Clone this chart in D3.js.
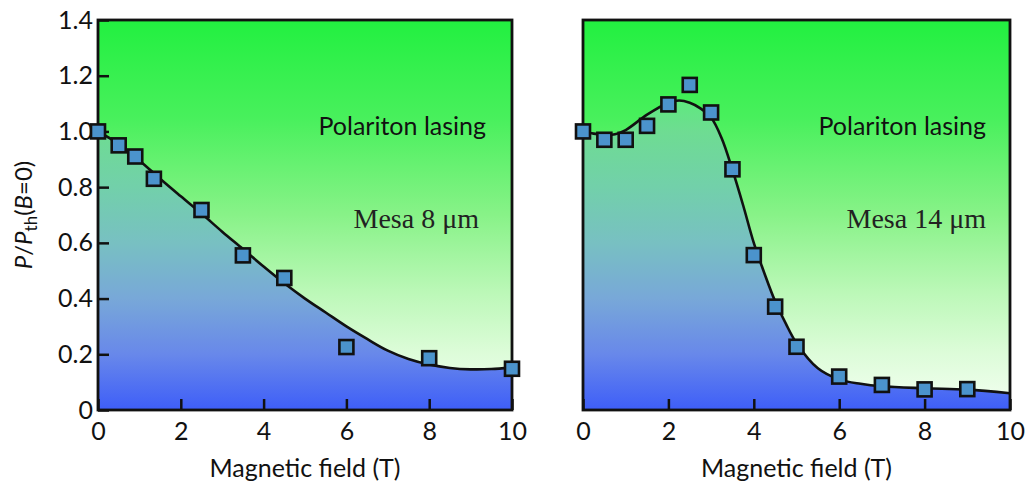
<!DOCTYPE html>
<html>
<head>
<meta charset="utf-8">
<script src="https://cdn.jsdelivr.net/npm/d3@7"></script>
<style>
  html, body { margin: 0; padding: 0; background: #ffffff; }
  svg { display: block; }
  .tick text { font-family: Lato, "Open Sans", sans-serif; font-size: 25px; fill: #111; }
</style>
</head>
<body>
<svg id="chart" width="1030" height="491"></svg>
<script>
// ---------------- data ----------------
const xTicks = [0, 2, 4, 6, 8, 10];
const yTicks = [0, 0.2, 0.4, 0.6, 0.8, 1.0, 1.2, 1.4];

// Mesa 8 µm: measured points
const mesa8B = [0, 0.5, 0.9, 1.35, 2.5, 3.5, 4.5, 6, 8, 10];
const mesa8P = [1.00, 0.95, 0.91, 0.83, 0.718, 0.555, 0.474, 0.226, 0.186, 0.148];
// Mesa 8 µm: fitted curve
const mesa8FitB = [0, 0.5, 1, 1.5, 2, 2.5, 3, 3.5, 4, 4.5, 5, 5.5, 6, 6.5, 7, 7.5, 8, 8.5, 9, 9.5, 10];
const mesa8FitP = [1.0, 0.955, 0.896, 0.83, 0.767, 0.705, 0.64, 0.578, 0.515, 0.455, 0.40, 0.35, 0.30, 0.255, 0.213, 0.183, 0.163, 0.151, 0.146, 0.147, 0.153];

// Mesa 14 µm: measured points
const mesa14B = [0, 0.5, 1, 1.5, 2, 2.5, 3, 3.5, 4, 4.5, 5, 6, 7, 8, 9];
const mesa14P = [1.00, 0.97, 0.97, 1.02, 1.097, 1.167, 1.068, 0.864, 0.556, 0.371, 0.227, 0.12, 0.09, 0.074, 0.075];
// Mesa 14 µm: fitted curve
const mesa14FitB = [0, 0.25, 0.5, 0.75, 1, 1.5, 2, 2.25, 2.5, 2.75, 3, 3.25, 3.5, 3.75, 4, 4.25, 4.5, 4.75, 5, 5.5, 6, 6.5, 7, 8, 9, 10];
const mesa14FitP = [1.0, 0.992, 0.988, 0.99, 1.005, 1.06, 1.103, 1.111, 1.103, 1.083, 1.05, 0.975, 0.862, 0.735, 0.60, 0.49, 0.39, 0.31, 0.24, 0.15, 0.11, 0.094, 0.085, 0.078, 0.073, 0.06];

const panelLabels = ["Polariton lasing", "Polariton lasing"];
const mesaLabels = ["Mesa 8 \u03BCm", "Mesa 14 \u03BCm"];
const xTitle = "Magnetic field (T)";

// ---------------- layout ----------------
const svg = d3.select("#chart");
const yTop = 20, yBot = 410;
const panels = [
  { x0: 98, x1: 512, B: mesa8B, P: mesa8P, fB: mesa8FitB, fP: mesa8FitP, yAxis: true },
  { x0: 583, x1: 1010, B: mesa14B, P: mesa14P, fB: mesa14FitB, fP: mesa14FitP, yAxis: false }
];

const y = d3.scaleLinear().domain([0, 1.4]).range([yBot, yTop]);

const defs = svg.append("defs");
const gAbove = defs.append("linearGradient").attr("id", "gAbove")
  .attr("gradientUnits", "userSpaceOnUse").attr("x1", 0).attr("x2", 0)
  .attr("y1", yTop).attr("y2", yBot);
[[0, "#22f040"], [0.25, "#48f05c"], [0.5, "#88f288"], [0.7, "#bcf8b8"], [0.85, "#dcfcd8"], [1, "#f4fff2"]]
  .forEach(s => gAbove.append("stop").attr("offset", s[0]).attr("stop-color", s[1]));
const gBelow = defs.append("linearGradient").attr("id", "gBelow")
  .attr("gradientUnits", "userSpaceOnUse").attr("x1", 0).attr("x2", 0)
  .attr("y1", yTop).attr("y2", yBot);
[[0, "#40f060"], [0.214, "#60e880"], [0.286, "#6edc92"], [0.428, "#72d0aa"], [0.571, "#78c0c2"], [0.714, "#78a8d8"], [0.857, "#6888ea"], [1, "#3e5ef8"]]
  .forEach(s => gBelow.append("stop").attr("offset", s[0]).attr("stop-color", s[1]));

panels.forEach((p, i) => {
  const x = d3.scaleLinear().domain([0, 10]).range([p.x0, p.x1]);
  const fit = p.fB.map((b, k) => [b, p.fP[k]]);
  const pts = p.B.map((b, k) => [b, p.P[k]]);

  const clipId = "clip" + i;
  defs.append("clipPath").attr("id", clipId).append("rect")
    .attr("x", p.x0).attr("y", yTop).attr("width", p.x1 - p.x0).attr("height", yBot - yTop);

  const g = svg.append("g");
  const inner = g.append("g").attr("clip-path", `url(#${clipId})`);
  inner.append("rect").attr("x", p.x0).attr("y", yTop)
    .attr("width", p.x1 - p.x0).attr("height", yBot - yTop).attr("fill", "url(#gAbove)");

  const curve = d3.curveCatmullRom.alpha(0.5);
  inner.append("path").datum(fit)
    .attr("d", d3.area().x(d => x(d[0])).y0(yBot).y1(d => y(d[1])).curve(curve))
    .attr("fill", "url(#gBelow)");
  inner.append("path").datum(fit)
    .attr("d", d3.line().x(d => x(d[0])).y(d => y(d[1])).curve(curve))
    .attr("fill", "none").attr("stroke", "#111").attr("stroke-width", 2.6);

  const xa = g.append("g").attr("transform", `translate(0,${yBot})`)
    .call(d3.axisBottom(x).tickValues(xTicks).tickSizeInner(-11).tickSizeOuter(0).tickPadding(12)
      .tickFormat(d3.format("d")));
  xa.select(".domain").remove();
  xa.selectAll(".tick line").attr("stroke", "#111").attr("stroke-width", 2.5);

  if (p.yAxis) {
    const ya = g.append("g").attr("transform", `translate(${p.x0},0)`)
      .call(d3.axisLeft(y).tickValues(yTicks).tickSizeInner(-11).tickSizeOuter(0).tickPadding(5)
        .tickFormat(d => d === 0 ? "0" : d3.format(".1f")(d)));
    ya.select(".domain").remove();
    ya.selectAll(".tick line").attr("stroke", "#111").attr("stroke-width", 2.5);
  }

  g.append("rect").attr("x", p.x0).attr("y", yTop)
    .attr("width", p.x1 - p.x0).attr("height", yBot - yTop)
    .attr("fill", "none").attr("stroke", "#111").attr("stroke-width", 2.8);

  g.append("text").attr("x", p.x0 + (i === 0 ? 388 : 403)).attr("y", 135)
    .attr("text-anchor", "end")
    .style("font-family", "Lato, 'Open Sans', sans-serif").style("font-size", "25px").attr("fill", "#111")
    .text(panelLabels[i]);
  g.append("text").attr("x", p.x0 + (i === 0 ? 381 : 403)).attr("y", 228)
    .attr("text-anchor", "end")
    .style("font-family", "'Liberation Serif', 'DejaVu Serif', serif").style("font-size", "28px").attr("fill", "#222")
    .text(mesaLabels[i]);

  g.append("text").attr("x", (p.x0 + p.x1) / 2).attr("y", 477)
    .attr("text-anchor", "middle")
    .style("font-family", "Lato, 'Open Sans', sans-serif").style("font-size", "25px").attr("fill", "#111")
    .text(xTitle);

  const s = 14;
  g.append("g").selectAll("rect").data(pts).join("rect")
    .attr("x", d => x(d[0]) - s / 2).attr("y", d => y(d[1]) - s / 2)
    .attr("width", s).attr("height", s)
    .attr("fill", "#4b93cc").attr("stroke", "#111").attr("stroke-width", 2.6);
});

const yt = svg.append("text")
  .attr("transform", `translate(32,${(yTop + yBot) / 2}) rotate(-90)`)
  .attr("text-anchor", "middle")
  .style("font-family", "Lato, 'Open Sans', sans-serif").style("font-size", "24px").attr("fill", "#111");
yt.append("tspan").style("font-style", "italic").text("P");
yt.append("tspan").text("/");
yt.append("tspan").style("font-style", "italic").text("P");
yt.append("tspan").attr("dy", 5).style("font-size", "17px").text("th");
yt.append("tspan").attr("dy", -5).text("(");
yt.append("tspan").style("font-style", "italic").text("B");
yt.append("tspan").text("=0)");
</script>
</body>
</html>
